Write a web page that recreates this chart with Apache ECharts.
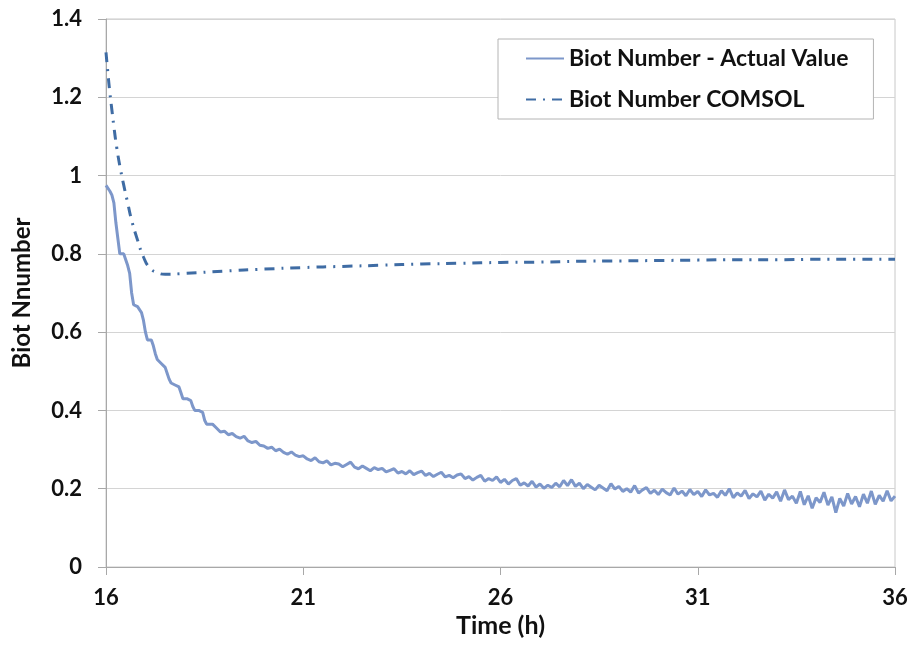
<!DOCTYPE html>
<html>
<head>
<meta charset="utf-8">
<script src="https://cdn.jsdelivr.net/npm/echarts@6/dist/echarts.min.js"></script>
<style>html,body{margin:0;padding:0;background:#fff}#c{width:909px;height:650px}</style>
</head>
<body>
<div id="c"></div>
<script>
var seriesNames = ['Biot Number - Actual Value', 'Biot Number COMSOL'];
var xTicks = [16, 21, 26, 31, 36];
var yTicks = [0, 0.2, 0.4, 0.6, 0.8, 1, 1.2, 1.4];

var actualTime = [16.00,16.05,16.10,16.15,16.20,16.25,16.30,16.35,16.40,16.45,16.50,16.55,16.60,16.65,16.70,16.75,16.80,16.85,16.90,16.95,
17.00,17.05,17.10,17.15,17.20,17.25,17.30,17.35,17.40,17.45,17.50,17.55,17.60,17.65,17.70,17.75,17.80,17.85,17.90,17.95,
18.00,18.05,18.10,18.15,18.20,18.25,18.30,18.35,18.40,18.45,18.50,18.55,18.60,18.70,18.80,18.90,
19.0,19.1,19.2,19.3,19.4,19.5,19.6,19.7,19.8,19.9,20.0,20.1,20.2,20.3,20.4,20.5,20.6,20.7,20.8,20.9,
21.0,21.1,21.2,21.3,21.4,21.5,21.6,21.7,21.8,21.9,22.0,22.1,22.2,22.3,22.4,22.5,22.6,22.7,22.8,22.9,
23.0,23.1,23.2,23.3,23.4,23.5,23.6,23.7,23.8,23.9,24.0,24.1,24.2,24.3,24.4,24.5,24.6,24.7,24.8,24.9,
25.0,25.1,25.2,25.3,25.4,25.5,25.6,25.7,25.8,25.9,26.0,26.1,26.2,26.3,26.4,26.5,26.6,26.7,26.8,26.9,
27.0,27.1,27.2,27.3,27.4,27.5,27.6,27.7,27.8,27.9,28.0,28.1,28.2,28.3,28.4,28.5,28.6,28.7,28.8,28.9,
29.0,29.1,29.2,29.3,29.4,29.5,29.6,29.7,29.8,29.9,30.0,30.1,30.2,30.3,30.4,30.5,30.6,30.7,30.8,30.9,
31.0,31.1,31.2,31.3,31.4,31.5,31.6,31.7,31.8,31.9,32.0,32.1,32.2,32.3,32.4,32.5,32.6,32.7,32.8,32.9,
33.0,33.1,33.2,33.3,33.4,33.5,33.6,33.7,33.8,33.9,34.0,34.1,34.2,34.3,34.4,34.5,34.6,34.7,34.8,34.9,
35.0,35.1,35.2,35.3,35.4,35.5,35.6,35.7,35.8,35.9,36.0];

var actualValue = [0.975,0.97,0.96,0.95,0.93,0.88,0.84,0.80,0.795,0.80,0.785,0.77,0.75,0.70,0.67,0.675,0.665,0.665,0.65,0.63,
0.60,0.58,0.585,0.58,0.565,0.545,0.53,0.525,0.52,0.515,0.51,0.495,0.48,0.47,0.475,0.465,0.46,0.46,0.445,0.43,
0.425,0.43,0.43,0.425,0.41,0.40,0.405,0.40,0.40,0.395,0.375,0.365,0.37,0.365,0.355,0.345,
0.347,0.338,0.341,0.333,0.329,0.334,0.322,0.318,0.321,0.311,0.309,0.303,0.306,0.297,0.301,0.293,0.288,0.294,0.286,0.282,
0.284,0.276,0.272,0.279,0.269,0.266,0.271,0.261,0.265,0.263,0.256,0.262,0.268,0.255,0.251,0.258,0.252,0.246,0.254,0.249,
0.252,0.243,0.247,0.251,0.24,0.244,0.238,0.246,0.236,0.241,0.245,0.234,0.239,0.231,0.237,0.242,0.23,0.234,0.228,0.235,
0.238,0.226,0.231,0.222,0.229,0.234,0.219,0.226,0.221,0.23,0.216,0.224,0.212,0.221,0.226,0.209,0.215,0.207,0.219,0.204,
0.212,0.201,0.209,0.203,0.214,0.205,0.221,0.208,0.223,0.206,0.214,0.2,0.211,0.204,0.197,0.209,0.202,0.195,0.213,0.199,
0.206,0.193,0.2,0.191,0.208,0.189,0.197,0.203,0.188,0.196,0.185,0.199,0.19,0.184,0.202,0.186,0.194,0.182,0.198,0.185,
0.193,0.18,0.197,0.184,0.188,0.178,0.195,0.183,0.2,0.177,0.189,0.181,0.196,0.175,0.187,0.179,0.194,0.171,0.186,0.176,
0.192,0.168,0.197,0.172,0.181,0.163,0.193,0.159,0.182,0.15,0.177,0.165,0.191,0.158,0.179,0.139,0.175,0.156,0.188,0.161,
0.18,0.154,0.186,0.163,0.194,0.16,0.183,0.168,0.195,0.169,0.181];

var comsolTime = [16.00,16.05,16.10,16.15,16.20,16.27,16.35,16.44,16.55,16.65,16.80,16.95,17.10,17.30,17.50,18,19,20,21,22,23,24,25,26,27,28,29,30,31,32,33,34,35,36];
var comsolValue = [1.315,1.26,1.21,1.167,1.125,1.073,1.025,0.98,0.93,0.886,0.835,0.792,0.765,0.752,0.748,0.75,0.756,0.761,0.765,0.768,0.771,0.774,0.776,0.778,0.779,0.781,0.782,0.783,0.784,0.785,0.785,0.786,0.786,0.786];

function pairs(xs, ys) { return xs.map(function (x, i) { return [x, ys[i]]; }); }

var FONT = 'Lato';
var chart = echarts.init(document.getElementById('c'), null, { renderer: 'canvas' });
chart.setOption({
  animation: false,
  backgroundColor: '#ffffff',
  grid: { left: 106, right: 14, top: 19, bottom: 83, show: true, borderColor: '#c8c8c8', borderWidth: 1,
          containLabel: false, outerBoundsMode: 'none' },
  legend: {
    orient: 'vertical', left: 498, top: 39,
    backgroundColor: '#ffffff', borderColor: '#b4b4b4', borderWidth: 1,
    padding: [8, 25, 8, 27], itemGap: 18, itemWidth: 38, itemHeight: 22,
    itemStyle: { opacity: 0 },
    textStyle: { fontFamily: FONT, fontWeight: 'bold', fontSize: 23, color: '#111' },
    data: seriesNames
  },
  xAxis: {
    type: 'value', min: xTicks[0], max: xTicks[xTicks.length - 1], interval: xTicks[1] - xTicks[0],
    name: 'Time (h)', nameLocation: 'middle', nameGap: 45,
    nameTextStyle: { fontFamily: FONT, fontWeight: 'bold', fontSize: 25, color: '#111' },
    axisLine: { show: true, lineStyle: { color: '#a8a8a8', width: 1 } },
    axisTick: { show: true, length: 8, lineStyle: { color: '#a8a8a8' } },
    axisLabel: { fontFamily: FONT, fontWeight: 'bold', fontSize: 22, color: '#111', margin: 20 },
    splitLine: { show: false }
  },
  yAxis: {
    type: 'value', min: yTicks[0], max: yTicks[yTicks.length - 1], interval: yTicks[1] - yTicks[0],
    name: 'Biot Nnumber', nameLocation: 'middle', nameGap: 72,
    nameTextStyle: { fontFamily: FONT, fontWeight: 'bold', fontSize: 24, color: '#111' },
    axisLine: { show: true, lineStyle: { color: '#a8a8a8', width: 1 } },
    axisTick: { show: true, length: 8, lineStyle: { color: '#a8a8a8' } },
    axisLabel: { fontFamily: FONT, fontWeight: 'bold', fontSize: 22, color: '#111', margin: 24 },
    splitLine: { show: true, lineStyle: { color: '#d4d4d4', width: 1 } }
  },
  series: [
    {
      name: seriesNames[0], type: 'line', symbol: 'none', smooth: false, z: 3,
      lineStyle: { color: '#7d97ca', width: 3 }, itemStyle: { color: '#7d97ca' },
      data: pairs(actualTime, actualValue)
    },
    {
      name: seriesNames[1], type: 'line', symbol: 'none', smooth: true, z: 4,
      lineStyle: { color: '#3f6ca4', width: 3, type: [10, 7, 2, 7] }, itemStyle: { color: '#3f6ca4' },
      data: pairs(comsolTime, comsolValue)
    }
  ]
});
</script>
</body>
</html>
